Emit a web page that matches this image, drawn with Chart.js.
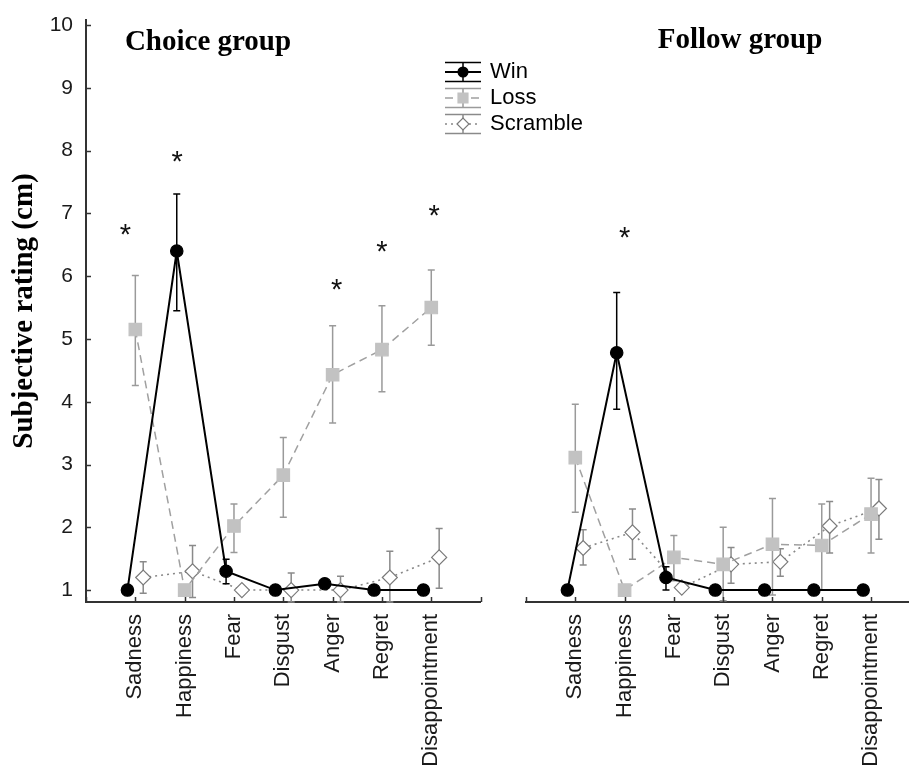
<!DOCTYPE html>
<html><head><meta charset="utf-8">
<script src="https://cdn.jsdelivr.net/npm/chart.js@4.4.0/dist/chart.umd.min.js"></script>
<style>
html,body{margin:0;padding:0;background:#fff;}
#wrap{position:relative;width:909px;height:768px;overflow:hidden;background:#fff;}
canvas{position:absolute;top:0;}
</style></head><body>
<div id="wrap"><canvas id="c1" width="495" height="768"></canvas><canvas id="c2" width="480" height="768"></canvas></div>
<script>
// ---------- DATA ----------
const categories = ['Sadness','Happiness','Fear','Disgust','Anger','Regret','Disappointment'];
const seriesNames = ['Win','Loss','Scramble'];
const yTicks = [1,2,3,4,5,6,7,8,9,10];

const choiceWin    = [1.0, 6.40, 1.30, 1.0, 1.10, 1.0, 1.0];
const choiceWinLo  = [1.0, 5.45, 1.10, 1.0, 1.10, 1.0, 1.0];
const choiceWinHi  = [1.0, 7.31, 1.49, 1.0, 1.10, 1.0, 1.0];
const choiceLoss   = [5.15, 1.0, 2.02, 2.83, 4.43, 4.83, 5.50];
const choiceLossLo = [4.26, 1.0, 1.60, 2.16, 3.66, 4.16, 4.90];
const choiceLossHi = [6.01, 1.0, 2.37, 3.43, 5.21, 5.53, 6.10];
const choiceScr    = [1.20, 1.30, 1.0, 1.0, 1.0, 1.20, 1.52];
const choiceScrLo  = [0.95, 0.88, 1.0, 0.81, 0.81, 0.81, 1.03];
const choiceScrHi  = [1.45, 1.71, 1.0, 1.27, 1.22, 1.62, 1.98];
const choiceStarX  = [0.80, 1.85, 5.08, 6.00, 7.06];
const choiceStarY  = [6.75, 7.90, 5.86, 6.48, 7.04];

const followWin    = [1.0, 4.78, 1.20, 1.0, 1.0, 1.0, 1.0];
const followWinLo  = [1.0, 3.88, 1.00, 1.0, 1.0, 1.0, 1.0];
const followWinHi  = [1.0, 5.74, 1.37, 1.0, 1.0, 1.0, 1.0];
const followLoss   = [3.11, 1.0, 1.52, 1.41, 1.73, 1.71, 2.21];
const followLossLo = [2.24, 1.0, 1.15, 0.83, 0.92, 1.00, 1.59];
const followLossHi = [3.96, 1.0, 1.87, 2.00, 2.46, 2.37, 2.78];
const followScr    = [1.67, 1.92, 1.04, 1.41, 1.45, 2.02, 2.30];
const followScrLo  = [1.40, 1.49, 1.04, 1.11, 1.22, 1.59, 1.81];
const followScrHi  = [1.96, 2.29, 1.04, 1.68, 1.66, 2.41, 2.76];
const followStarX  = [2.0];
const followStarY  = [6.69];

// ---------- STYLE ----------
const SANS = '"Liberation Sans", Arial, sans-serif';
const SERIF = '"Liberation Serif", "Times New Roman", serif';
const OFF = [-0.16, 0, 0.16];
const STY = [
  {line:'#000', width:2, dash:[], point:'circle', r:6.2, fill:'#000', stroke:'#000', err:'#000'},
  {line:'#a0a0a0', width:1.5, dash:[8,5], point:'rect', r:8.8, fill:'#c2c2c2', stroke:'#c2c2c2', err:'#9a9a9a'},
  {line:'#888', width:1.6, dash:[2,4], point:'rectRot', r:7.5, fill:'#fff', stroke:'#7a7a7a', err:'#8a8a8a'}
];
const AXIS = '#333';

function buildDatasets(vals, lo, hi){
  return [0,1,2].map(k => ({
    label: seriesNames[k],
    data: vals[k].map((v,i)=>({x:i+1+OFF[k], y:v})),
    errLo: lo[k], errHi: hi[k], errColor: STY[k].err,
    borderColor: STY[k].line, borderWidth: STY[k].width, borderDash: STY[k].dash,
    pointStyle: STY[k].point, pointRadius: STY[k].r, pointHoverRadius: STY[k].r,
    pointBackgroundColor: STY[k].fill, pointBorderColor: STY[k].stroke, pointBorderWidth: 1.2,
    fill:false, tension:0, showLine:true
  }));
}

const errorBars = {
  id:'errorBars',
  beforeDatasetDraw(chart, args){
    const ds = chart.data.datasets[args.index];
    const xs = chart.scales.x, ys = chart.scales.y;
    const ctx = chart.ctx;
    ctx.save();
    ctx.setLineDash([]);
    ctx.strokeStyle = ds.errColor; ctx.lineWidth = 1.5;
    ds.data.forEach((p,i)=>{
      const lo = ds.errLo[i], hi = ds.errHi[i];
      if (hi - lo < 0.02) return;
      const px = xs.getPixelForValue(p.x);
      const y1 = ys.getPixelForValue(hi), y2 = ys.getPixelForValue(lo);
      ctx.beginPath();
      ctx.moveTo(px, y1); ctx.lineTo(px, y2);
      ctx.moveTo(px-3.5, y1); ctx.lineTo(px+3.5, y1);
      ctx.moveTo(px-3.5, y2); ctx.lineTo(px+3.5, y2);
      ctx.stroke();
    });
    ctx.restore();
  }
};

const inwardTicks = {
  id:'inwardTicks',
  afterDraw(chart, args, opts){
    const ctx = chart.ctx, a = chart.chartArea;
    ctx.save(); ctx.setLineDash([]);
    ctx.strokeStyle = AXIS; ctx.lineWidth = 1.5;
    if (opts.y){
      chart.scales.y.ticks.forEach(t=>{
        const py = Math.round(chart.scales.y.getPixelForValue(t.value))+0.5;
        ctx.beginPath(); ctx.moveTo(a.left, py); ctx.lineTo(a.left+5, py); ctx.stroke();
      });
    }
    chart.scales.x.ticks.forEach(t=>{
      const px = Math.round(chart.scales.x.getPixelForValue(t.value))+0.5;
      ctx.beginPath(); ctx.moveTo(px, a.bottom); ctx.lineTo(px, a.bottom-5); ctx.stroke();
    });
    ctx.restore();
  }
};

const decorations = {
  id:'decorations',
  afterDatasetsDraw(chart, args, opts){
    const ctx = chart.ctx;
    const xs = chart.scales.x, ys = chart.scales.y;
    const ox = opts.originX; // canvas left edge in page coordinates
    ctx.save();
    // significance stars
    ctx.fillStyle = '#111';
    ctx.font = '29px ' + SANS;
    ctx.textAlign = 'center'; ctx.textBaseline = 'alphabetic';
    const m = ctx.measureText('*');
    const shift = (m.actualBoundingBoxAscent - m.actualBoundingBoxDescent)/2;
    opts.starX.forEach((sx,i)=>{
      ctx.fillText('*', xs.getPixelForValue(sx), ys.getPixelForValue(opts.starY[i]) + shift);
    });
    // panel title
    ctx.fillStyle = '#000';
    ctx.font = 'bold 29px ' + SERIF;
    ctx.textAlign = 'center'; ctx.textBaseline = 'alphabetic';
    ctx.fillText(opts.title, opts.titleX - ox, opts.titleY);
    // legend
    if (opts.legend){
      const L = opts.legend;
      seriesNames.forEach((name,k)=>{
        const s = STY[k];
        const cy = L.y + k*L.gap;
        const x0 = L.x - ox, x1 = x0 + L.w, cx = (x0+x1)/2;
        ctx.setLineDash([]);
        ctx.strokeStyle = s.err; ctx.lineWidth = 1.5;
        ctx.beginPath();
        ctx.moveTo(x0, cy-9.5); ctx.lineTo(x1, cy-9.5);
        ctx.moveTo(x0, cy+9.5); ctx.lineTo(x1, cy+9.5);
        ctx.moveTo(cx, cy-9.5); ctx.lineTo(cx, cy+9.5);
        ctx.stroke();
        ctx.strokeStyle = s.line; ctx.lineWidth = s.width;
        ctx.setLineDash(s.dash);
        ctx.beginPath(); ctx.moveTo(x0, cy); ctx.lineTo(x1, cy); ctx.stroke();
        ctx.setLineDash([]);
        ctx.fillStyle = s.fill; ctx.strokeStyle = s.stroke; ctx.lineWidth = 1.2;
        ctx.beginPath();
        const r = s.r*0.8;
        if (s.point==='circle'){ ctx.arc(cx, cy, r, 0, Math.PI*2); }
        else if (s.point==='rect'){ const h=r*Math.SQRT1_2; ctx.rect(cx-h, cy-h, 2*h, 2*h); }
        else { ctx.moveTo(cx-r,cy); ctx.lineTo(cx,cy-r); ctx.lineTo(cx+r,cy); ctx.lineTo(cx,cy+r); ctx.closePath(); }
        ctx.fill(); ctx.stroke();
        ctx.fillStyle = '#000';
        ctx.font = '22px ' + SANS;
        ctx.textAlign = 'left'; ctx.textBaseline = 'middle';
        ctx.fillText(name, L.tx - ox, cy);
      });
    }
    ctx.restore();
  }
};

function makeChart(canvas, ds, cfg){
  return new Chart(canvas, {
    type:'line',
    data:{datasets: ds},
    plugins:[errorBars, inwardTicks, decorations],
    options:{
      responsive:false, maintainAspectRatio:false, animation:false, devicePixelRatio:1,
      layout:{padding:{top:20, right:0, left:0, bottom:0}},
      plugins:{
        legend:{display:false}, tooltip:{enabled:false},
        inwardTicks:{y:cfg.showY},
        decorations:Object.assign({originX:cfg.pageLeft}, cfg.deco)
      },
      scales:{
        x:{
          type:'linear', min:0, max:cfg.xMax,
          afterFit(s){ s.height = 166; },
          grid:{display:false, drawTicks:false},
          border:{display:true, color:AXIS, width:2},
          ticks:{
            stepSize:1, includeBounds:false, autoSkip:false,
            minRotation:90, maxRotation:90, padding:12,
            color:'#1a1a1a', font:{family:SANS, size:22},
            callback:(v)=> (Number.isInteger(v) && v>=1 && v<=categories.length) ? categories[v-1] : ''
          }
        },
        y:{
          type:'linear', min:0.81, max:10.08, display:cfg.showY,
          afterFit(s){ s.width = 86; },
          grid:{display:false, drawTicks:false},
          border:{display:true, color:AXIS, width:2},
          afterBuildTicks(s){ s.ticks = yTicks.map(v=>({value:v})); },
          ticks:{ padding:13, color:'#1a1a1a', font:{family:SANS, size:21, lineHeight:0.5} },
          title:{display:true, text:'Subjective rating (cm)', color:'#000',
                 font:{family:SERIF, size:29, weight:'bold'}, padding:{top:7, bottom:0}}
        }
      }
    }
  });
}

// Build a panel whose plot area spans [areaLeft, areaLeft+areaWidth] in page pixels.
function panel(id, dsArgs, cfg){
  const canvas = document.getElementById(id);
  let chart = null;
  for (let pass=0; pass<4; pass++){
    cfg.pageLeft = parseFloat(canvas.style.left || '0');
    chart = makeChart(canvas, buildDatasets(...dsArgs), cfg);
    const a = chart.chartArea;
    const dW = cfg.areaWidth - (a.right - a.left);
    const dL = cfg.areaLeft - (cfg.pageLeft + a.left);
    if (Math.abs(dW) < 0.5 && Math.abs(dL) < 0.5) break;
    chart.destroy();
    canvas.width = Math.round(canvas.width + dW);
    canvas.height = 768;
    canvas.style.width = canvas.width + 'px';
    canvas.style.height = '768px';
    canvas.style.left = (cfg.pageLeft + dL) + 'px';
  }
  return chart;
}

document.getElementById('c1').style.left = '0px';
document.getElementById('c2').style.left = '440px';

panel('c1',
  [[choiceWin, choiceLoss, choiceScr],[choiceWinLo, choiceLossLo, choiceScrLo],[choiceWinHi, choiceLossHi, choiceScrHi]],
  {xMax:8, showY:true, areaLeft:86, areaWidth:395,
   deco:{starX:choiceStarX, starY:choiceStarY, title:'Choice group', titleX:208, titleY:50}});

panel('c2',
  [[followWin, followLoss, followScr],[followWinLo, followLossLo, followScrLo],[followWinHi, followLossHi, followScrHi]],
  {xMax:7.77, showY:false, areaLeft:526, areaWidth:383,
   deco:{starX:followStarX, starY:followStarY, title:'Follow group', titleX:740, titleY:48,
         legend:{x:445, w:36, y:72, gap:26, tx:490}}});
</script>
</body></html>
